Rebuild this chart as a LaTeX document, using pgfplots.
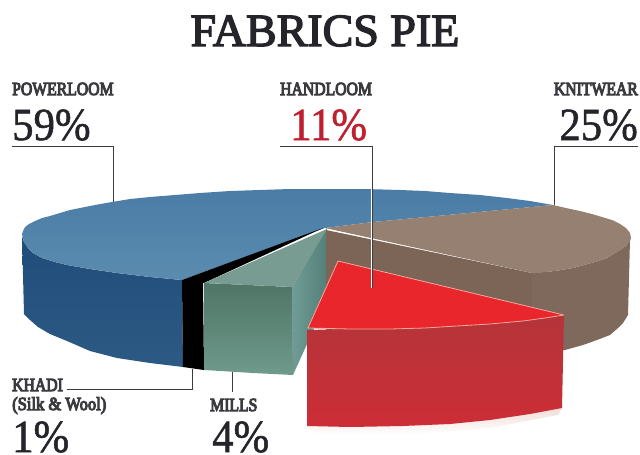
\documentclass[border=0pt]{standalone}
\usepackage{fontspec}
\usepackage{pgfplots}
\pgfplotsset{compat=1.18}
\setmainfont{Liberation Serif}
\newfontfamily\titlef[FakeBold=3]{Liberation Serif}
\newfontfamily\semi[FakeBold=6]{Liberation Serif}
\newfontfamily\thin[FakeBold=1.2]{Liberation Serif}
\definecolor{ink}{HTML}{24242A}
\definecolor{redtxt}{HTML}{BE2030}
\definecolor{leader}{HTML}{3C3C40}
\definecolor{bluetopA}{HTML}{4A7CA6}
\definecolor{bluetopB}{HTML}{5B8CAF}
\definecolor{bluesideA}{HTML}{204C7A}
\definecolor{bluesideB}{HTML}{2C5A84}
\definecolor{greentop}{HTML}{789C92}
\definecolor{greenA}{HTML}{4F7566}
\definecolor{greenB}{HTML}{6F9A8C}
\definecolor{tealA}{HTML}{6F9C94}
\definecolor{tealB}{HTML}{557F78}
\definecolor{browntop}{HTML}{968072}
\definecolor{brownin}{HTML}{7C6457}
\definecolor{brownout}{HTML}{7F695D}
\definecolor{redtop}{HTML}{E8262B}
\definecolor{redA}{HTML}{B43539}
\definecolor{redB}{HTML}{CD2D36}
\definecolor{rededge}{HTML}{F6A79A}
\definecolor{shadow}{HTML}{F1DED8}
\newcommand{\lab}[1]{\scalebox{0.85}[1]{\semi\fontsize{18.5}{20}\selectfont\color{ink!90!white}#1}}
\newcommand{\num}[2][ink]{\scalebox{0.93}[1]{\thin\fontsize{46}{48}\selectfont\color{#1}#2}}
\begin{document}
\begin{tikzpicture}
\begin{axis}[hide axis, scale only axis, width=640pt, height=455pt,
  xmin=0, xmax=640, ymin=0, ymax=455, y dir=reverse, clip=true]
% POWERLOOM 59%: side
\addplot[draw=none, top color=bluesideA, bottom color=bluesideB] coordinates {
 (22,236)(24,242)(28,248)(33,253)(42,258)(55,262)(67,265)(90,269)(117,273)(150,277)(182,280)
 (183,367)(150,363)(117,358)(90,351)(67,341)(50,334)(38,327)(30,320)(24,314)} -- cycle;
% POWERLOOM: top
\addplot[draw=none, top color=bluetopA, bottom color=bluetopB] coordinates {
 (22,234)(23,231)(25,227)(29,224)(35,221)(42,218)(50,216)(60,213)(70,210)(80,208)(95,205)(112,202)
 (130,199)(150,197)(175,195)(200,193)(230,191)(260,190)(290,189)(326,189)(365,189)(400,190)
 (425,191)(450,193)(480,195)(507,198)(530,201)(553,205)(373,222)(325,228)(182,280)(150,277)(117,273)
 (90,269)(67,265)(55,262)(42,258)(33,253)(28,248)(24,242)} -- cycle;
% KHADI 1%
\addplot[draw=none, fill=black] coordinates {(182,280)(203,280)(204,370)(183,367)} -- cycle;
\addplot[draw=none, fill=black] coordinates {(323,228)(182,280)(204,283)} -- cycle;
% MILLS 4%
\addplot[draw=none, top color=greenA, bottom color=greenB] coordinates {
 (204,283)(292,287)(293,375)(253,373)(204,370)} -- cycle;
\addplot[draw=none, left color=tealA, right color=tealB] coordinates {(292,287)(327,228)(327,300)(293,375)} -- cycle;
\addplot[draw=none, fill=greentop] coordinates {(327,229)(204,283)(292,287)} -- cycle;
% KNITWEAR 25%: outer side, inner side, top
\addplot[draw=none, fill=brownout] coordinates {
 (532,273)(555,271)(573,268)(595,262)(607,258)(620,250)(626,246)(630,240)(628,315)(623,323)(618,328)(610,335)(597,340)(583,345)(565,350)(532,352)} -- cycle;
\addplot[draw=none, fill=brownin] coordinates {(326,230)(532,273)(532,330)(326,330)} -- cycle;
\addplot[draw=none, fill=browntop] coordinates {
 (325,228)(373,222)(553,205)(566,208)(580,211)(592,214)(602,217)(612,220)(620,224)(626,228)(630,233)(631,238)(630,241)
 (626,246)(620,250)(614,254)(607,258)(595,262)(584,265)(573,268)(555,271)(537,273)(532,273)} -- cycle;
% HANDLOOM 11%: shadow, side, top
\addplot[draw=none, top color=shadow, bottom color=white] coordinates {
 (306,426)(403,426)(490,420)(562,408)(558,415)(490,428)(403,435)(320,435)} -- cycle;
\addplot[draw=none, top color=redA, bottom color=redB] coordinates {
 (307,330)(350,329)(390,329)(425,328)(457,326)(490,324)(523,321)(545,318)(564,315)
 (562,408)(530,414)(490,420)(450,424)(403,426)(350,427)(307,426)} -- cycle;
\addplot[draw=rededge, line width=0.8pt, line join=round, fill=redtop] coordinates {
 (338,261)(564,315)(545,318)(523,321)(490,324)(457,326)(425,328)(390,329)(350,329)(308,328)} -- cycle;
% leaders
\addplot[leader, line width=0.9pt] coordinates {(12,146)(113,146)(113,202)};
\addplot[white, line width=2.2pt] coordinates {(372,189)(372,288)};
\addplot[leader, line width=0.9pt] coordinates {(280,146)(372,146)(372,288)};
\addplot[leader, line width=0.9pt] coordinates {(638,146)(554,146)(554,205)};
\addplot[leader, line width=0.9pt] coordinates {(67,389)(192,389)(192,369)};
\addplot[leader, line width=0.9pt] coordinates {(232,372)(232,392)};
% text
\node[anchor=base, inner sep=0pt] at (axis cs:325,46) {\titlef\fontsize{46}{48}\selectfont\color{ink}FABRICS PIE};
\node[anchor=base west, inner sep=0pt] at (axis cs:12,95) {\lab{POWERLOOM}};
\node[anchor=base west, inner sep=0pt] at (axis cs:12,140) {\num{59\%}};
\node[anchor=base west, inner sep=0pt] at (axis cs:280,95) {\lab{HANDLOOM}};
\node[anchor=base west, inner sep=0pt] at (axis cs:290,140) {\num[redtxt]{11\%}};
\node[anchor=base east, inner sep=0pt] at (axis cs:638,95) {\lab{KNITWEAR}};
\node[anchor=base east, inner sep=0pt] at (axis cs:638,140) {\num{25\%}};
\node[anchor=base west, inner sep=0pt] at (axis cs:12,391) {\lab{KHADI}};
\node[anchor=base west, inner sep=0pt] at (axis cs:12,410) {\scalebox{1.05}[1]{\lab{(Silk \& Wool)}}};
\node[anchor=base west, inner sep=0pt] at (axis cs:12,452) {\num{1\%}};
\node[anchor=base west, inner sep=0pt] at (axis cs:212,452) {\num{4\%}};
\node[anchor=base west, inner sep=0pt] at (axis cs:210,411) {\lab{MILLS}};
\end{axis}
\pgfresetboundingbox
\path (current axis.south west) rectangle (current axis.north east);
\end{tikzpicture}
\end{document}
